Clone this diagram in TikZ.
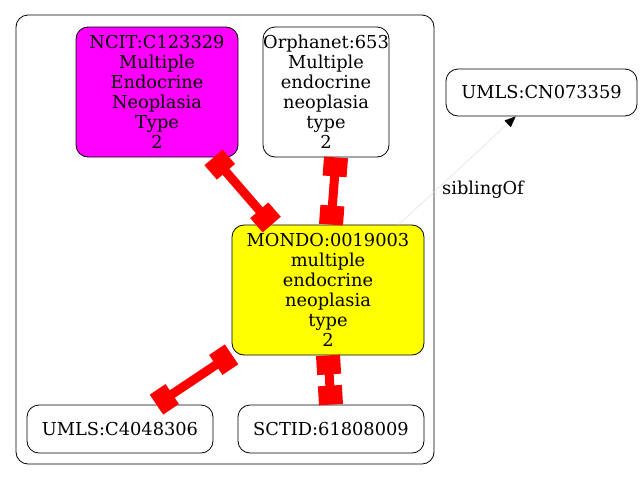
\documentclass[tikz,border=0pt]{standalone}
\usepackage{fontspec}
\setmainfont{DejaVu Serif}
\usepackage{tikz}
\usetikzlibrary{arrows.meta, positioning}
\definecolor{ncitmag}{RGB}{255, 0, 255}
\definecolor{mondoyel}{RGB}{255, 255, 0}
\tikzset{
	term/.style={draw, rounded corners=12pt, align=center, inner sep=0pt, line width=0.8pt,
		font=\fontsize{17.8}{20}\selectfont},
	ncit/.style={term, fill=ncitmag},
	mondo/.style={term, fill=mondoyel},
	plain/.style={term, fill=white},
	xref/.style={draw=red, line width=9pt,
		{Rectangle[length=19pt,width=24pt]}-{Rectangle[length=19pt,width=24pt]}},
	sib/.style={draw=gray!30, line width=0.4pt, -{Triangle[length=11pt,width=9pt,black]}}
}

\begin{document}
\begin{tikzpicture}[x=1pt, y=-1pt]
		\useasboundingbox (0,0) rectangle (642,480);
		\draw[line width=0.8pt, rounded corners=12pt] (16,15) rectangle (434,464);
		\node[ncit, minimum width=162pt, minimum height=130pt] (c123329) at (157,92) {NCIT:C123329\\Multiple\\Endocrine\\Neoplasia\\Type\\2};
		\node[plain, minimum width=126pt, minimum height=130pt] (orpha653) at (326,92) {Orphanet:653\\Multiple\\endocrine\\neoplasia\\type\\2};
		\node[mondo, minimum width=192pt, minimum height=130pt] (m0019003) at (328,290) {MONDO:0019003\\multiple\\endocrine\\neoplasia\\type\\2};
		\node[plain, minimum width=191pt, minimum height=47pt] (cn073359) at (541.5,92.5) {UMLS:CN073359};
		\node[plain, minimum width=186pt, minimum height=48pt] (c4048306) at (120,429) {UMLS:C4048306};
		\node[plain, minimum width=186pt, minimum height=48pt] (s61808009) at (331,429) {SCTID:61808009};
		\draw[xref] (c123329) -- (m0019003);
		\draw[xref] ([xshift=10pt]orpha653.south) -- ([xshift=3pt]m0019003.north);
		\draw[xref] (m0019003) -- (c4048306);
		\draw[xref] (m0019003.south) -- (s61808009.north);
		\draw[sib] (m0019003) -- (cn073359);
		\node[font=\fontsize{17.8}{20}\selectfont] (sibl) at (483,190) {siblingOf};
\end{tikzpicture}
\end{document}
